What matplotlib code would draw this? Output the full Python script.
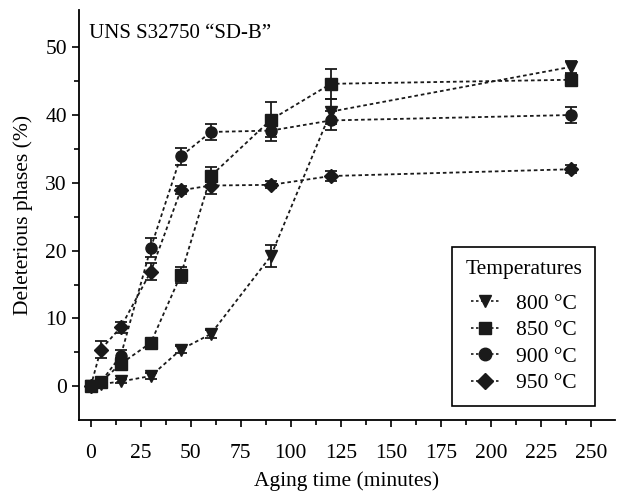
import numpy as np
import matplotlib
matplotlib.use('Agg')
import matplotlib.pyplot as plt
from matplotlib.ticker import MultipleLocator
from matplotlib.lines import Line2D

plt.rcParams['font.family'] = ['Liberation Serif', 'DejaVu Serif']

# Aging times (minutes)
times = [0, 5, 15, 30, 45, 60, 90, 120, 240]

# Deleterious phase fraction (%) per temperature
phase_800 = [0.0, 0.3, 0.7, 1.5, 5.4, 7.7, 19.2, 40.5, 47.1]
phase_850 = [0.0, 0.6, 3.3, 6.4, 16.4, 31.0, 39.3, 44.6, 45.2]
phase_900 = [0.0, 0.6, 4.5, 20.4, 33.9, 37.5, 37.7, 39.2, 40.0]
phase_950 = [0.0, 5.4, 8.7, 16.9, 28.9, 29.6, 29.7, 31.0, 32.0]

# error bars (%)
err_800 = [0.0, 0.0, 0.3, 0.4, 0.5, 0.6, 1.6, 1.8, 0.9]
err_850 = [0.2, 0.3, 0.8, 0.5, 1.2, 1.3, 2.6, 2.2, 0.8]
err_900 = [0.0, 0.3, 0.8, 1.4, 1.2, 1.2, 1.6, 1.4, 1.2]
err_950 = [0.0, 1.2, 0.8, 1.2, 0.6, 1.2, 0.5, 0.8, 0.6]

labels = ['800 °C', '850 °C', '900 °C', '950 °C']
markers = ['v', 's', 'o', 'D']

fig = plt.figure(figsize=(6.2, 4.96), dpi=100)
ax = fig.add_axes([0.127, 0.153, 0.865, 0.827])

series = [(phase_800, err_800), (phase_850, err_850),
          (phase_900, err_900), (phase_950, err_950)]
handles = []
for (vals, errs), lab, mk in zip(series, labels, markers):
    ms = 7 if mk == 'D' else 8
    ax.errorbar(times, vals, yerr=errs, color='#1a1a1a', marker=mk, ms=ms,
                linestyle=(0, (2, 1.6)), lw=1.3, capsize=4, elinewidth=1.3,
                capthick=1.3)
    handles.append(Line2D([], [], color='#1a1a1a', marker=mk, ms=ms + 1,
                          linestyle=(0, (1.5, 1.5)), lw=1.2, label=lab))

ax.set_xlim(-6, 262)
ax.set_ylim(-5, 55.5)
ax.set_xticks(range(0, 251, 25))
ax.xaxis.set_minor_locator(MultipleLocator(12.5))
ax.set_yticks(range(0, 51, 10))
ax.set_yticks(range(5, 55, 10), minor=True)

for s in ['top', 'right']:
    ax.spines[s].set_visible(False)
for s in ['left', 'bottom']:
    ax.spines[s].set_linewidth(1.3)
ax.tick_params(which='both', direction='out', width=1.2, labelsize=15.5)
ax.tick_params(axis='x', pad=12)
ax.tick_params(axis='y', pad=3.5)
ax.tick_params(which='major', length=5)
ax.tick_params(which='minor', length=3.5)

ax.set_xlabel('Aging time (minutes)', fontsize=15.5, labelpad=6)
ax.set_ylabel('Deleterious phases (%)', fontsize=15.5, labelpad=9)

ax.text(0.02, 0.965, 'UNS S32750 \u201cSD-B\u201d', transform=ax.transAxes,
        fontsize=15, va='top', ha='left')

leg = ax.legend(handles=handles, title='Temperatures', loc='lower right',
                bbox_to_anchor=(0.963, 0.034),
                fontsize=15.5, title_fontsize=15.5, fancybox=False, edgecolor='black',
                framealpha=1, handlelength=1.3, handletextpad=0.8,
                labelspacing=0.3, borderpad=0.6, borderaxespad=0, numpoints=1)
leg.get_frame().set_linewidth(1.2)
# a bit more room between the title and the entries
leg._legend_box.sep = 0.3 * 15.5 + 6

fig.savefig('out.png', dpi=100)
